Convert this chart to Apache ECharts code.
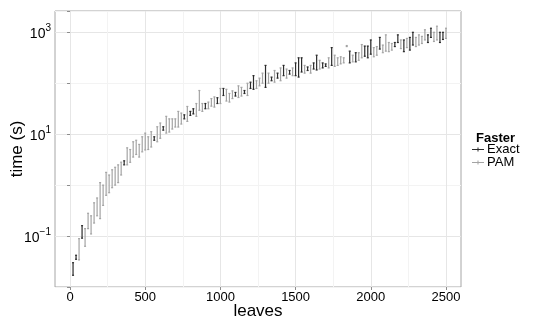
<!DOCTYPE html>
<html>
<head>
<meta charset="utf-8">
<script src="https://cdn.jsdelivr.net/npm/echarts@6/dist/echarts.min.js"></script>
<style>
  html, body { margin: 0; padding: 0; background: #fff; }
  #chart { width: 545px; height: 327px; }
</style>
</head>
<body>
<div id="chart"></div>
<script>
// leaves, time range in seconds (low / high), and which method was faster
const leaves = [
  20, 40, 60, 80, 100, 120, 140, 160, 180, 200,
  220, 240, 260, 280, 300, 320, 340, 360, 380, 400,
  420, 440, 460, 480, 500, 520, 540, 560, 580, 600,
  620, 640, 660, 680, 700, 720, 740, 760, 780, 800,
  820, 840, 860, 880, 900, 920, 940, 960, 980, 1000,
  1020, 1040, 1060, 1080, 1100, 1120, 1140, 1160, 1180, 1200,
  1220, 1240, 1260, 1280, 1300, 1320, 1340, 1360, 1380, 1400,
  1420, 1440, 1460, 1480, 1500, 1520, 1540, 1560, 1580, 1600,
  1620, 1640, 1660, 1680, 1700, 1720, 1740, 1760, 1780, 1800,
  1820, 1840, 1860, 1880, 1900, 1920, 1940, 1960, 1980, 2000,
  2020, 2040, 2060, 2080, 2100, 2120, 2140, 2160, 2180, 2200,
  2220, 2240, 2260, 2280, 2300, 2320, 2340, 2360, 2380, 2400,
  2420, 2440, 2460, 2480, 2500
]
const timeLow = [
  0.017, 0.035, 0.034, 0.091, 0.063, 0.14, 0.11, 0.18, 0.25, 0.22,
  0.40, 0.63, 0.71, 0.89, 1.0, 1.12, 1.58, 2.5, 2.5, 2.8,
  3.55, 4.0, 3.55, 4.5, 4.9, 5.0, 5.6, 7.6, 7.1, 8.3,
  12, 10.5, 11, 12.6, 13.8, 13.8, 15.8, 20, 17.8, 23.4,
  25, 22.4, 29.5, 28, 31.6, 31.6, 35.5, 34, 40, 40,
  57.5, 44.7, 42.7, 50, 56, 52.5, 56, 63, 57.5, 79,
  76, 79, 89, 100, 83, 100, 112, 105, 126, 112,
  141, 126, 151, 141, 141, 132, 166, 158, 178, 158,
  190, 182, 190, 200, 214, 200, 224, 214, 224, 240,
  251, 525, 251, 263, 263, 282, 316, 339, 316, 372,
  331, 355, 468, 398, 427, 417, 447, 525, 631, 479,
  417, 501, 447, 562, 525, 562, 603, 708, 631, 794,
  661, 708, 631, 724, 759
]
const timeHigh = [
  0.030, 0.042, 0.089, 0.16, 0.14, 0.28, 0.25, 0.45, 0.56, 1.12,
  1.0, 1.78, 1.58, 2.0, 2.24, 2.5, 2.82, 3.0, 5.4, 5.0,
  7.1, 7.6, 6.3, 8.9, 10.5, 8.9, 11.2, 8.9, 14, 16.6,
  14, 22.4, 20, 20, 20, 28, 26, 24, 35, 28,
  31.6, 40, 72, 40, 40, 42.7, 50, 54, 52, 79,
  79, 76, 63, 71, 66, 89, 83, 72, 100, 105,
  141, 112, 126, 158, 224, 158, 132, 178, 158, 200,
  224, 190, 178, 200, 251, 316, 316, 224, 209, 224,
  251, 355, 282, 251, 240, 316, 501, 355, 316, 331,
  316, 550, 427, 355, 398, 398, 575, 537, 537, 708,
  501, 525, 794, 562, 891, 631, 603, 631, 891, 708,
  708, 759, 794, 1000, 794, 891, 832, 1122, 891, 1202,
  1000, 1318, 1000, 1000, 1202
]
const faster = [
  'E', 'E', 'P', 'E', 'P', 'P', 'P', 'P', 'P', 'P',
  'P', 'P', 'P', 'P', 'P', 'P', 'P', 'E', 'P', 'P',
  'P', 'P', 'P', 'P', 'P', 'P', 'P', 'E', 'P', 'P',
  'E', 'P', 'P', 'P', 'P', 'P', 'P', 'E', 'P', 'E',
  'E', 'P', 'P', 'P', 'E', 'P', 'P', 'P', 'E', 'P',
  'E', 'P', 'P', 'P', 'E', 'P', 'P', 'E', 'P', 'E',
  'E', 'P', 'P', 'P', 'E', 'P', 'E', 'P', 'E', 'P',
  'E', 'P', 'E', 'P', 'E', 'E', 'E', 'P', 'E', 'P',
  'E', 'E', 'P', 'E', 'E', 'P', 'E', 'P', 'P', 'P',
  'P', 'P', 'E', 'P', 'E', 'P', 'P', 'E', 'E', 'E',
  'P', 'P', 'E', 'P', 'P', 'P', 'P', 'E', 'E', 'P',
  'E', 'P', 'E', 'E', 'P', 'P', 'P', 'P', 'E', 'E',
  'P', 'P', 'E', 'E', 'P'
]
const xMajorTicks = [0, 500, 1000, 1500, 2000, 2500]
const xMinorTicks = [250, 750, 1250, 1750, 2250]

const FONT = 'Liberation Sans'
const exactColor = '#2b2b2b'
const pamColor = '#a4a4a4'

function pick(code) {
  const out = []
  for (let i = 0; i < leaves.length; i++) {
    if (faster[i] === code) {
      out.push([leaves[i], timeLow[i], timeHigh[i]])
    }
  }
  return out
}

// vertical range with tiny caps at both ends
function renderRange(params, api) {
  const x = api.value(0)
  const lo = api.coord([x, api.value(1)])
  const hi = api.coord([x, api.value(2)])
  const style = { stroke: api.visual('color'), lineWidth: 1.2 }
  return {
    type: 'group',
    children: [
      { type: 'line', shape: { x1: lo[0], y1: lo[1], x2: hi[0], y2: hi[1] }, style: style },
      { type: 'line', shape: { x1: lo[0] - 1, y1: lo[1], x2: lo[0] + 1, y2: lo[1] }, style: style },
      { type: 'line', shape: { x1: hi[0] - 1, y1: hi[1], x2: hi[0] + 1, y2: hi[1] }, style: style }
    ]
  }
}

const chart = echarts.init(document.getElementById('chart'))

chart.setOption({
  animation: false,
  backgroundColor: '#fff',
  textStyle: { fontFamily: FONT },
  title: {
    text: 'Faster',
    left: 471,
    top: 127,
    textStyle: { fontFamily: FONT, fontSize: 13, fontWeight: 'bold', color: '#000' }
  },
  legend: {
    orient: 'vertical',
    left: 472,
    top: 143,
    itemWidth: 12,
    itemHeight: 5,
    itemGap: 0,
    padding: 0,
    icon: 'path://M0,2h12v1h-12z M5.5,0.5h1v4h-1z',
    textStyle: { fontFamily: FONT, fontSize: 13, color: '#000', padding: [0, 0, 0, -2] },
    data: ['Exact', 'PAM']
  },
  grid: {
    left: 55,
    top: 11,
    right: 84,
    bottom: 40,
    containLabel: false,
    outerBoundsMode: 'none',
    show: true,
    borderColor: '#a6a6a6',
    borderWidth: 1
  },
  xAxis: [
    {
      type: 'value',
      min: -100,
      max: 2600,
      name: 'leaves',
      nameLocation: 'middle',
      nameGap: 16,
      nameMoveOverlap: false,
      nameTextStyle: { fontFamily: FONT, fontSize: 17, color: '#000', verticalAlign: 'top' },
      axisLine: { show: false },
      axisTick: { show: true, length: 3, customValues: xMajorTicks, lineStyle: { color: '#8c8c8c' } },
      axisLabel: {
        customValues: xMajorTicks,
        fontFamily: FONT,
        fontSize: 13,
        color: '#000',
        margin: 4,
        formatter: function (v) { return String(v) }
      },
      splitLine: { show: true, lineStyle: { color: '#e6e6e6', width: 1 } }
    },
    {
      type: 'value',
      min: -100,
      max: 2600,
      position: 'bottom',
      axisLine: { show: false },
      axisTick: { show: false, customValues: xMinorTicks },
      axisLabel: { show: false },
      splitLine: { show: true, lineStyle: { color: '#f3f3f3', width: 1 } }
    }
  ],
  yAxis: {
    type: 'log',
    logBase: 10,
    min: 0.01,
    max: 2620,
    name: 'time (s)',
    nameLocation: 'middle',
    nameGap: 29,
    nameMoveOverlap: false,
    nameTextStyle: { fontFamily: FONT, fontSize: 17, color: '#000' },
    axisLine: { show: false },
    axisTick: { show: true, length: 3, lineStyle: { color: '#8c8c8c' } },
    axisLabel: {
      margin: 4,
      formatter: function (v) {
        const e = Math.log10(v)
        const r = Math.round(e)
        if (Math.abs(e - r) > 0.01 || Math.abs(r % 2) !== 1) return ''
        return '{b|10}{s|' + (r < 0 ? '\u2212' + (-r) : r) + '}'
      },
      rich: {
        b: { fontFamily: FONT, fontSize: 14, color: '#000', verticalAlign: 'bottom', padding: [4, 0, 0, 0] },
        s: { fontFamily: FONT, fontSize: 10, color: '#000', verticalAlign: 'top' }
      }
    },
    splitLine: { show: true, lineStyle: { color: ['#f3f3f3', '#e6e6e6'], width: 1 } }
  },
  series: [
    {
      name: 'PAM',
      type: 'custom',
      renderItem: renderRange,
      itemStyle: { color: pamColor },
      encode: { x: 0, y: [1, 2] },
      data: pick('P'),
      clip: true
    },
    {
      name: 'Exact',
      type: 'custom',
      renderItem: renderRange,
      itemStyle: { color: exactColor },
      encode: { x: 0, y: [1, 2] },
      data: pick('E'),
      clip: true
    }
  ]
})
</script>
</body>
</html>
